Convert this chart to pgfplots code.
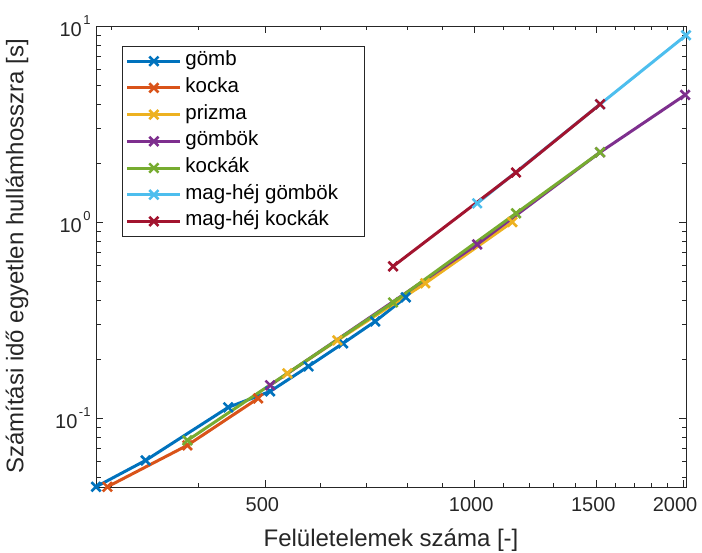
\documentclass[border=0pt]{standalone}
\usepackage{fontspec}
\setmainfont{Liberation Sans}
\usepackage{pgfplots}
\pgfplotsset{compat=1.18}

\definecolor{mBlue}{rgb}{0,0.447,0.741}
\definecolor{mOrange}{rgb}{0.850,0.325,0.098}
\definecolor{mYellow}{rgb}{0.929,0.694,0.125}
\definecolor{mPurple}{rgb}{0.494,0.184,0.556}
\definecolor{mGreen}{rgb}{0.466,0.674,0.188}
\definecolor{mCyan}{rgb}{0.301,0.745,0.933}
\definecolor{mRed}{rgb}{0.635,0.078,0.184}
\definecolor{axgray}{rgb}{0.15,0.15,0.15}

% power-of-ten tick label in the text font
\newcommand{\dexp}[1]{10\hspace{1.5pt}\raisebox{0.6em}{\fontsize{13}{13}\selectfont #1}}

\begin{document}
\begin{tikzpicture}
\useasboundingbox (-96pt,-66pt) rectangle (606pt,487pt);
\begin{axis}[
  at={(0pt,0pt)}, anchor=south west,
  scale only axis, width=590pt, height=461pt,
  xmode=log, ymode=log,
  xmin=285, xmax=2020, ymin=0.0445, ymax=10,
  clip=false,
  axis line style={draw=axgray, line width=0.8pt},
  every tick/.style={draw=axgray, line width=0.8pt},
  major tick length=7pt, minor tick length=4.5pt,
  tick align=inside,
  xtick={500,1000,1500,2000},
  xticklabels={500,1000,1500,{\hspace*{-10pt}2000}},
  minor xtick={300,400,600,700,800,900,1100,1200,1300,1400,1600,1700,1800,1900},
  ytick={0.1,1,10},
  yticklabels={\dexp{-1},\dexp{0},\dexp{1}},
  minor ytick={0.05,0.06,0.07,0.08,0.09,0.2,0.3,0.4,0.5,0.6,0.7,0.8,0.9,2,3,4,5,6,7,8,9},
  ticklabel style={font=\fontsize{20}{24}\selectfont, text=axgray},
  xticklabel style={xshift=-3pt, yshift=-7pt},
  yticklabel style={xshift=-2pt},
  xlabel={Felületelemek száma [-]},
  ylabel={Számítási idő egyetlen hullámhosszra [s]},
  label style={font=\fontsize{24}{28}\selectfont, text=axgray},
  xlabel style={at={(axis description cs:0.5,-0.115)}, anchor=center},
  ylabel style={at={(axis description cs:-0.134,0.5)}, anchor=center},
  every axis plot/.append style={line width=3pt, mark=x, mark size=6.5pt,
    mark options={solid, line width=2.6pt}},
  legend cell align=left,
  legend image code/.code={\draw[mark repeat=2, mark phase=2]
    plot coordinates {(0pt,0pt) (26.5pt,0pt) (53pt,0pt)};},
  legend style={at={(axis description cs:0.044,0.957)}, anchor=north west,
    draw=axgray, line width=0.8pt, fill=white,
    font=\fontsize{20.5}{24}\selectfont, text=black,
    inner xsep=3.5pt, inner ysep=5pt, row sep=6.7pt,
    nodes={inner xsep=3.5pt, inner ysep=0pt, text height=14.5pt, text depth=5.5pt}},
]
\addplot[mBlue] coordinates {(285,0.0446) (336,0.0608) (442,0.1134) (508,0.1368) (577,0.1836) (647,0.2405) (720,0.3113) (797,0.413)};
\addlegendentry{gömb}
\addplot[mOrange] coordinates {(296,0.0446) (386,0.0726) (488,0.126)};
\addlegendentry{kocka}
\addplot[mYellow] coordinates {(538,0.169) (635,0.249) (850,0.487) (1135,1.0)};
\addlegendentry{prizma}
\addplot[mPurple] coordinates {(508,0.147) (1010,0.769) (1519,2.27) (2014,4.45)};
\addlegendentry{gömbök}
\addplot[mGreen] coordinates {(386,0.0769) (764,0.389) (1149,1.108) (1519,2.27)};
\addlegendentry{kockák}
\addplot[mCyan] coordinates {(1010,1.246) (1519,3.99) (2020,8.97)};
\addlegendentry{mag-héj gömbök}
\addplot[mRed] coordinates {(764,0.594) (1149,1.79) (1519,3.99)};
\addlegendentry{mag-héj kockák\hspace*{28pt}}
\end{axis}
\end{tikzpicture}
\end{document}
